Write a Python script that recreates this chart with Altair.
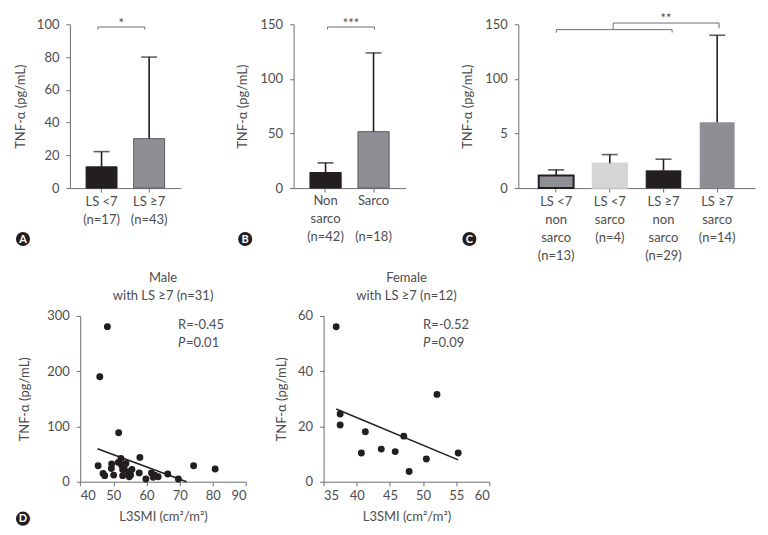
import altair as alt
import pandas as pd

FONT = "Lato"
TXT = "#4d4d4f"
AX = "#6d6e71"
INK = "#231f20"
FS = 13

# ---------------- data ----------------
# Panel A
a_groups = ["LS <7\n(n=17)", "LS ≥7\n(n=43)"]
a_mean = [13.0, 30.2]
a_upper = [22.3, 80.0]
a_fill = [INK, "#8e8f95"]
a_stroke = [INK, "#5a5b60"]
a_strokew = [1.0, 1.0]

# Panel B (group name on top lines, sample size on third line)
b_groups = ["Non\nsarco", "Sarco"]
b_n = ["(n=42)", "(n=18)"]
b_mean = [14.3, 51.7]
b_upper = [23.1, 123.8]
b_fill = [INK, "#8e8f95"]
b_stroke = [INK, "#5a5b60"]
b_strokew = [1.0, 1.0]

# Panel C
c_groups = ["LS <7\nnon\nsarco\n(n=13)", "LS <7\nsarco\n(n=4)",
            "LS ≥7\nnon\nsarco\n(n=29)", "LS ≥7\nsarco\n(n=14)"]
c_mean = [11.5, 22.8, 16.0, 60.3]
c_upper = [16.7, 30.7, 26.5, 140.0]
c_fill = ["#8e8f95", "#d5d5d7", INK, "#8e8f95"]
c_stroke = [INK, "#d5d5d7", INK, INK]
c_strokew = [2.0, 0.0, 1.0, 2.0]

# Panel D (male)
male_x = [48.2, 45.9, 51.6, 45.4, 46.9, 47.4, 49.5, 49.4, 50.1, 52.3, 52.5,
          53.8, 52.8, 52.8, 54.3, 54.8, 55.6, 58.0, 57.8, 59.8, 61.5, 62.5,
          63.5, 66.4, 69.6, 74.2, 80.7, 53.2, 55.2, 62.0, 51.5]
male_y = [280.6, 190.0, 88.7, 29.0, 15.0, 11.0, 32.0, 24.0, 12.0, 42.0, 30.0,
          33.0, 22.0, 11.0, 18.0, 9.0, 22.0, 44.0, 16.0, 5.0, 16.0, 12.0,
          9.0, 14.0, 5.0, 29.0, 23.0, 27.0, 12.0, 8.0, 35.0]
male_fit_x = [45.2, 72.1]
male_fit_y = [59.7, 0.0]

# Panel D (female)
female_x = [36.9, 37.5, 37.5, 41.3, 40.7, 43.7, 45.8, 47.1, 47.9, 50.5, 52.1, 55.3]
female_y = [56.1, 24.5, 20.5, 18.1, 10.4, 11.8, 10.9, 16.5, 3.7, 8.2, 31.6, 10.4]
female_fit_x = [36.9, 55.3]
female_fit_y = [26.3, 7.9]

one = pd.DataFrame({"k": [0]})
PLOT_H = 164


def letter_badge(letter, px, py):
    circ = alt.Chart(one).mark_circle(size=200, color=INK, opacity=1).encode(
        x=alt.value(px), y=alt.value(py))
    txt = alt.Chart(one).mark_text(text=letter, color="white", fontWeight="bold",
                                   fontSize=11, font=FONT, baseline="middle",
                                   align="center").encode(
        x=alt.value(px), y=alt.value(py + 0.5))
    return [circ, txt]


def seg(x1, x2, y1, y2):
    return alt.Chart(one).mark_rule(color=AX, strokeWidth=1).encode(
        x=alt.value(x1), x2=alt.value(x2), y=alt.value(y1), y2=alt.value(y2))


def stars(s, px, py):
    return alt.Chart(one).mark_text(text=s, color=TXT, fontSize=FS, font=FONT,
                                    align="center", baseline="alphabetic").encode(
        x=alt.value(px), y=alt.value(py))


def bar_panel(groups, mean, upper, fills, strokes, strokew, ymax, yticks,
              width, p_outer, title_pad, extras, y_label_expr=None,
              axis_labels=True, n_labels=None):
    df = pd.DataFrame({"g": groups, "m": mean, "u": upper})
    xenc = alt.X("g:N", sort=groups,
                 scale=alt.Scale(paddingInner=0.35, paddingOuter=p_outer),
                 axis=alt.Axis(title=None, labelAngle=0, labels=axis_labels,
                               labelExpr="split(datum.label, '\\n')",
                               labelLineHeight=18, labelPadding=3,
                               labelBaseline="top"))
    yaxis = dict(values=yticks, tickCount=len(yticks) + 2, title="TNF-α (pg/mL)",
                 titlePadding=title_pad, labelPadding=7, labelOverlap=False)
    if y_label_expr:
        yaxis["labelExpr"] = y_label_expr
    yenc = alt.Y("m:Q", scale=alt.Scale(domain=[0, ymax], nice=False, zero=True),
                 axis=alt.Axis(**yaxis))
    bars = alt.Chart(df).mark_bar().encode(
        x=xenc, y=yenc,
        fill=alt.Fill("g:N", sort=groups,
                      scale=alt.Scale(domain=groups, range=fills), legend=None),
        stroke=alt.Stroke("g:N", sort=groups,
                          scale=alt.Scale(domain=groups, range=strokes), legend=None),
        strokeWidth=alt.StrokeWidth("g:N", sort=groups,
                                    scale=alt.Scale(domain=groups, range=strokew),
                                    legend=None),
    )
    whisk = alt.Chart(df).mark_rule(color=INK, strokeWidth=1.6).encode(
        x=alt.X("g:N", sort=groups), y="m:Q", y2="u:Q")
    cap = alt.Chart(df).mark_tick(color=INK, thickness=1.6, size=16).encode(
        x=alt.X("g:N", sort=groups), y="u:Q")
    layers = [bars, whisk, cap]
    if not axis_labels:
        ldf = pd.DataFrame({"g": groups, "n": n_labels})
        name_txt = alt.Chart(ldf).mark_text(
            font=FONT, fontSize=FS, color=TXT, baseline="top", align="center",
            lineBreak="\n", lineHeight=18).encode(
            x=alt.X("g:N", sort=groups), y=alt.value(PLOT_H + 7), text="g:N")
        n_txt = alt.Chart(ldf).mark_text(
            font=FONT, fontSize=FS, color=TXT, baseline="top", align="center").encode(
            x=alt.X("g:N", sort=groups), y=alt.value(PLOT_H + 7 + 36), text="n:N")
        layers += [name_txt, n_txt]
    return alt.layer(*layers, *extras).properties(width=width, height=PLOT_H)


panel_a = bar_panel(
    a_groups, a_mean, a_upper, a_fill, a_stroke, a_strokew, 100,
    [0, 20, 40, 60, 80, 100], 111, 0.34, 9,
    [seg(28, 75, 2.7, 2.7), seg(28, 28, 2.7, 5.3), seg(75, 75, 2.7, 5.3),
     stars("*", 51.5, 3.5)] + letter_badge("A", -47, 215))

panel_b = bar_panel(
    b_groups, b_mean, b_upper, b_fill, b_stroke, b_strokew, 150,
    [0, 50, 100, 150], 112, 0.34, 11,
    [seg(34, 81, 2.7, 2.7), seg(34, 34, 2.7, 5.3), seg(81, 81, 2.7, 5.3),
     stars("***", 57.5, 3.5)] + letter_badge("B", -48.5, 215),
    axis_labels=False, n_labels=b_n)

panel_c = bar_panel(
    c_groups, c_mean, c_upper, c_fill, c_stroke, c_strokew, 150,
    [0, 50, 100, 150], 237, 0.38, 10,
    [seg(38, 154, 5.3, 5.3), seg(38, 38, 5.3, 8.3), seg(154, 154, 5.3, 8.3),
     seg(95, 95, -1.3, 5.3), seg(95, 201, -1.3, -1.3), seg(201, 201, -1.3, 4),
     stars("**", 148, -1.5)] + letter_badge("C", -49, 215),
    y_label_expr="datum.value == 50 ? '5' : datum.label")


def scatter_panel(xs, ys, fx, fy, xdom, xticks, ydom, yticks, title, rtxt, ptxt,
                  rx, ry, py, title_pad, extras, lead=0.0, plot_w=166):
    df = pd.DataFrame({"x": xs, "y": ys})
    fit = pd.DataFrame({"x": fx, "y": fy})
    xscale = alt.Scale(domain=xdom, nice=False, zero=False)
    if lead:
        xscale = alt.Scale(domain=xdom, nice=False, zero=False,
                           range=[lead, lead + plot_w])
    xenc = alt.X("x:Q", scale=xscale,
                 axis=alt.Axis(values=xticks, tickCount=len(xticks) + 2,
                               title="L3SMI (cm²/m²)", labelPadding=4,
                               titlePadding=8, labelOverlap=False))
    yaxis = dict(values=yticks, tickCount=len(yticks) + 2, title="TNF-α (pg/mL)",
                 titlePadding=title_pad, labelPadding=7, labelOverlap=False)
    if lead:
        yaxis["offset"] = -lead
    yenc = alt.Y("y:Q", scale=alt.Scale(domain=ydom, nice=False),
                 axis=alt.Axis(**yaxis))
    pts = alt.Chart(df).mark_circle(size=48, color=INK, opacity=1).encode(x=xenc, y=yenc)
    line = alt.Chart(fit).mark_line(color=INK, strokeWidth=1.5).encode(x="x:Q", y="y:Q")
    r = alt.Chart(one).mark_text(text=rtxt, align="left", baseline="middle",
                                 fontSize=FS, font=FONT, color=TXT).encode(
        x=alt.datum(rx), y=alt.datum(ry))
    p1 = alt.Chart(one).mark_text(text="P", align="left", baseline="middle",
                                  fontSize=FS, font=FONT, color=TXT,
                                  fontStyle="italic").encode(
        x=alt.datum(rx), y=alt.datum(py))
    p2 = alt.Chart(one).mark_text(text=ptxt, align="left", baseline="middle",
                                  fontSize=FS, font=FONT, color=TXT, dx=8).encode(
        x=alt.datum(rx), y=alt.datum(py))
    return alt.layer(pts, line, r, p1, p2, *extras).properties(
        width=plot_w + lead, height=166,
        title=alt.TitleParams(title, anchor="middle", fontSize=FS, fontWeight="normal",
                              font=FONT, color=TXT, lineHeight=18, offset=7,
                              frame="group", dx=lead / 2))


LEAD = 10.3
panel_male = scatter_panel(
    male_x, male_y, male_fit_x, male_fit_y, [40, 90], [40, 50, 60, 70, 80, 90],
    [0, 300], [0, 100, 200, 300], ["Male", "with LS ≥7 (n=31)"],
    "R=-0.45", "=0.01", 69.5, 284, 251, 15, letter_badge("D", -47, 203),
    lead=LEAD)

panel_female = scatter_panel(
    female_x, female_y, female_fit_x, female_fit_y, [35, 60], [35, 40, 45, 50, 55, 60],
    [0, 60], [0, 20, 40, 60], ["Female", "with LS ≥7 (n=12)"],
    "R=-0.52", "=0.09", 50.0, 56.8, 50.2, 9, [])

top = alt.hconcat(panel_a, panel_b, panel_c, spacing=113, bounds="flush").resolve_scale(
    fill="independent", stroke="independent", strokeWidth="independent")
bottom = alt.hconcat(panel_male, panel_female, spacing=77, bounds="flush")

chart = alt.vconcat(top, bottom, spacing=10).properties(
    padding={"left": 6, "top": 4, "right": 5, "bottom": 5}
).configure_view(stroke=None).configure_axis(
    domainColor=AX, tickColor=AX, tickSize=4, grid=False,
    labelFont=FONT, labelFontSize=FS, labelColor=TXT,
    titleFont=FONT, titleFontSize=FS, titleFontWeight="normal", titleColor=TXT,
).configure_text(font=FONT)

chart.save("out.html", embed_options={"renderer": "svg", "actions": False})
